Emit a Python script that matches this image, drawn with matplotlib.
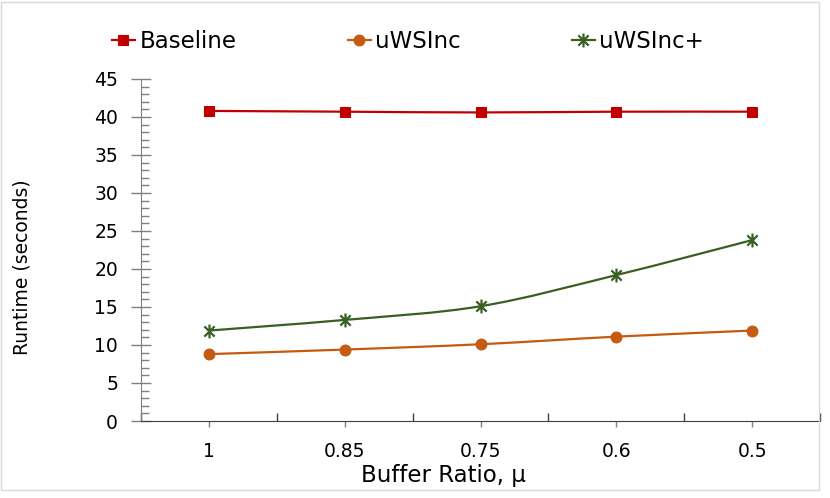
import matplotlib
matplotlib.use("Agg")
import matplotlib.pyplot as plt
import numpy as np
from matplotlib.path import Path
from matplotlib.patches import PathPatch, Rectangle
from matplotlib.lines import Line2D
from matplotlib.ticker import MultipleLocator, FixedLocator

plt.rcParams["font.family"] = ["DejaVu Sans"]

# data
categories = ["1", "0.85", "0.75", "0.6", "0.5"]
baseline = [40.8, 40.7, 40.6, 40.7, 40.7]
uwsinc = [8.8, 9.4, 10.1, 11.1, 11.9]
uwsinc_plus = [11.9, 13.3, 15.1, 19.2, 23.8]

RED = "#C00000"
ORANGE = "#C55A11"
GREEN = "#3A5F22"
AXIS_GREY = "#808080"

# asterisk marker like Excel's "star"
STAR = Path([(-1, -1), (1, 1), (-1, 1), (1, -1), (0, -1.35), (0, 1.35)],
            [Path.MOVETO, Path.LINETO, Path.MOVETO, Path.LINETO, Path.MOVETO, Path.LINETO])


def smooth_path(xs, ys):
    """Excel-style smoothed line: cubic Bezier segments through the points."""
    pts = np.column_stack([xs, ys]).astype(float)
    n = len(pts)
    verts = [pts[0]]
    codes = [Path.MOVETO]
    for i in range(n - 1):
        p_prev = pts[i - 1] if i > 0 else pts[i]
        p_next2 = pts[i + 2] if i + 2 < n else pts[i + 1]
        c1 = pts[i] + (pts[i + 1] - p_prev) / 6.0
        c2 = pts[i + 1] - (p_next2 - pts[i]) / 6.0
        verts += [c1, c2, pts[i + 1]]
        codes += [Path.CURVE4] * 3
    return Path(verts, codes)


fig = plt.figure(figsize=(8.3, 4.98), dpi=100)
ax = fig.add_axes([141 / 830, 77 / 498, 679 / 830, 342 / 498])

x = np.arange(len(categories))
series = [
    ("Baseline", baseline, RED, "s", 7, 0.8),
    ("uWSInc", uwsinc, ORANGE, "o", 7.8, 0.8),
    ("uWSInc+", uwsinc_plus, GREEN, STAR, 10, 1.6),
]
handles = []
for name, vals, color, marker, ms, mew in series:
    ax.add_patch(PathPatch(smooth_path(x, vals), facecolor="none",
                           edgecolor=color, linewidth=1.6, zorder=2))
    ax.plot(x, vals, linestyle="none", marker=marker, markersize=ms,
            markerfacecolor=color, markeredgecolor=color,
            markeredgewidth=mew, zorder=3)
    handles.append(Line2D([], [], color=color, linewidth=1.6, marker=marker,
                          markersize=ms, markerfacecolor=color, markeredgecolor=color,
                          markeredgewidth=mew, label=name))

ax.set_xlim(-0.5, len(categories) - 0.5)
ax.set_ylim(0, 45)

# y axis: majors crossing the spine, minors inside
ax.yaxis.set_major_locator(MultipleLocator(5))
ax.yaxis.set_minor_locator(MultipleLocator(1))
ax.tick_params(axis="y", which="major", direction="inout", length=15, width=1,
               color=AXIS_GREY, labelsize=13.5, pad=9)
ax.tick_params(axis="y", which="minor", direction="in", length=6, width=1,
               color=AXIS_GREY)

# x axis: category labels at centres, boundary ticks pointing up
ax.xaxis.set_major_locator(FixedLocator(x))
ax.set_xticklabels(categories)
ax.xaxis.set_minor_locator(FixedLocator(np.arange(len(categories) + 1) - 0.5))
ax.tick_params(axis="x", which="major", direction="out", length=4, width=1,
               color=AXIS_GREY, labelsize=13.5, pad=11)
ax.tick_params(axis="x", which="minor", direction="in", length=6, width=1,
               color="#404040")

for side in ("top", "right"):
    ax.spines[side].set_visible(False)
ax.spines["left"].set_color(AXIS_GREY)
ax.spines["bottom"].set_color("#404040")

ax.set_xlabel("Buffer Ratio, \u03bc", fontsize=16.5, va="center")
ax.xaxis.set_label_coords((443 - 141) / 679, (421 - 475) / 342)
ax.set_ylabel("Runtime (seconds)", fontsize=13.5, va="center")
ax.yaxis.set_label_coords((22 - 141) / 679, (421 - 267) / 342)

fig.legend(handles=handles, loc="center left", bbox_to_anchor=(112 / 830, 1 - 42 / 498),
           ncol=3, frameon=False, fontsize=16.5, handlelength=1.0, handletextpad=0.2,
           columnspacing=4.85, borderaxespad=0, borderpad=0)

# light chart-area border
fig.patches.append(Rectangle((1 / 830, 8 / 498), 818 / 830, 488 / 498,
                             transform=fig.transFigure, fill=False,
                             edgecolor="#D9D9D9", linewidth=1))

fig.savefig("out.png", dpi=100)
